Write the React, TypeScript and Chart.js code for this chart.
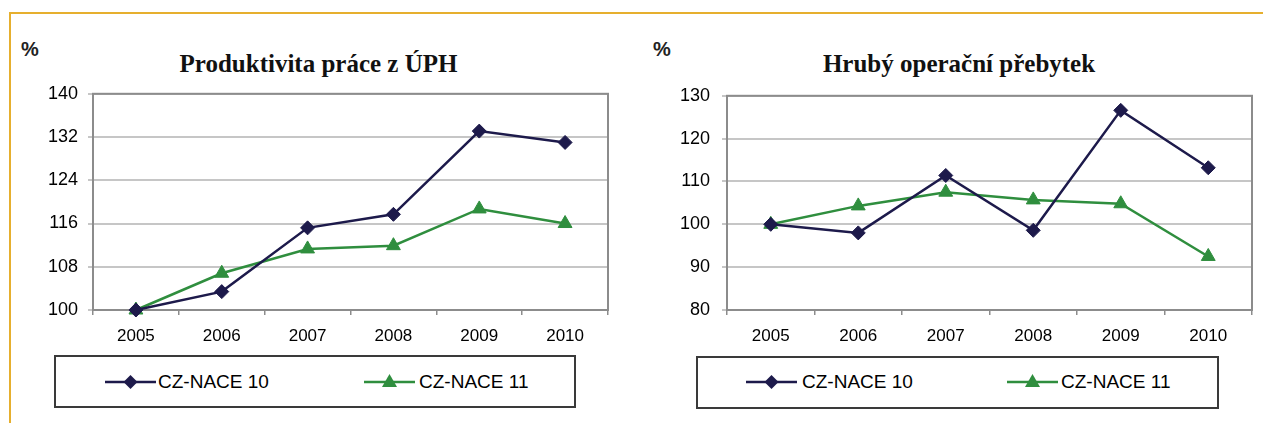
import React, { useEffect, useRef } from "react";
import { Chart, registerables } from "chart.js";

Chart.register(...registerables);

const years = ["2005", "2006", "2007", "2008", "2009", "2010"];
const seriesNames = ["CZ-NACE 10", "CZ-NACE 11"];

const productivityTitle = "Produktivita práce z ÚPH";
const productivityNace10 = [100, 103.4, 115.2, 117.7, 133.1, 131.0];
const productivityNace11 = [100, 106.8, 111.3, 111.9, 118.7, 116.0];
const productivityTicks = { min: 100, max: 140, step: 8 };

const surplusTitle = "Hrubý operační přebytek";
const surplusNace10 = [100, 98.0, 111.4, 98.6, 126.6, 113.2];
const surplusNace11 = [100, 104.3, 107.5, 105.7, 104.8, 92.5];
const surplusTicks = { min: 80, max: 130, step: 10 };

const NAVY = "#1d1a4b";
const GREEN = "#2f8e3e";
const SANS = "'Liberation Sans', Arial, sans-serif";
const SERIF = "'Liberation Serif', 'Times New Roman', serif";

const CANVAS_TOP = 73;
const CANVAS_HEIGHT = 277;

const framePlugin = {
  id: "frame",
  beforeDatasetsDraw(chart: any) {
    const { ctx, chartArea } = chart;
    const { left, top, right, bottom } = chartArea;
    ctx.save();
    ctx.strokeStyle = "#8c8c8c";
    ctx.lineWidth = 2;
    ctx.strokeRect(left, top, right - left, bottom - top);
    ctx.restore();
  },
};

type PanelProps = {
  canvasLeft: number;
  canvasWidth: number;
  yPadding: number;
  values10: number[];
  values11: number[];
  ticks: { min: number; max: number; step: number };
};

function LinePanel({ canvasLeft, canvasWidth, yPadding, values10, values11, ticks }: PanelProps) {
  const ref = useRef<HTMLCanvasElement | null>(null);
  useEffect(() => {
    if (!ref.current) return;
    const chart = new Chart(ref.current, {
      type: "line",
      data: {
        labels: years,
        datasets: [
          {
            label: seriesNames[0],
            data: values10,
            borderColor: NAVY,
            backgroundColor: NAVY,
            borderWidth: 2.5,
            pointStyle: "rectRot",
            pointRadius: 7,
            pointBorderWidth: 1,
            tension: 0,
            clip: false,
          },
          {
            label: seriesNames[1],
            data: values11,
            borderColor: GREEN,
            backgroundColor: GREEN,
            borderWidth: 2.5,
            pointStyle: "triangle",
            pointRadius: 8,
            pointBorderWidth: 1,
            tension: 0,
            clip: false,
          },
        ],
      },
      options: {
        animation: false,
        responsive: false,
        devicePixelRatio: 1,
        layout: { padding: { top: 10, right: 10, left: 0, bottom: 0 } },
        plugins: {
          legend: { display: false },
          title: { display: false },
          tooltip: { enabled: false },
        },
        scales: {
          x: {
            type: "category",
            offset: true,
            grid: {
              display: true,
              offset: true,
              drawOnChartArea: false,
              drawTicks: true,
              tickLength: 5,
              color: "#8c8c8c",
              lineWidth: 1.5,
            },
            border: { display: false },
            ticks: {
              padding: 11,
              color: "#000",
              font: { family: SANS, size: 17 },
              maxRotation: 0,
              autoSkip: false,
            },
            afterFit: (s: any) => {
              s.height = 40;
            },
          },
          y: {
            min: ticks.min,
            max: ticks.max,
            ticks: {
              stepSize: ticks.step,
              padding: yPadding,
              color: "#000",
              font: { family: SANS, size: 18 },
            },
            grid: { color: "#c6c6c6", lineWidth: 2, tickLength: 5 },
            border: { display: false },
            afterFit: (s: any) => {
              s.width = 53;
            },
          },
        },
      },
      plugins: [framePlugin],
    });
    return () => chart.destroy();
  }, []);
  return (
    <canvas
      ref={ref}
      width={canvasWidth}
      height={CANVAS_HEIGHT}
      style={{ position: "absolute", left: canvasLeft, top: CANVAS_TOP, width: canvasWidth, height: CANVAS_HEIGHT }}
    />
  );
}

function Marker({ kind, color }: { kind: "diamond" | "triangle"; color: string }) {
  return (
    <svg width="51" height="20" viewBox="0 0 51 20" style={{ display: "block" }}>
      <line x1="0" y1="10" x2="51" y2="10" stroke={color} strokeWidth="2.5" />
      {kind === "diamond" ? (
        <polygon points="25.5,3 32.5,10 25.5,17 18.5,10" fill={color} />
      ) : (
        <polygon points="25.5,2 33,15 18,15" fill={color} />
      )}
    </svg>
  );
}

type LegendProps = {
  boxLeft: number;
  boxRight: number;
  boxTop: number;
  boxBottom: number;
  icon1: number;
  text1: number;
  icon2: number;
  text2: number;
};

function LegendBox({ boxLeft, boxRight, boxTop, boxBottom, icon1, text1, icon2, text2 }: LegendProps) {
  const textStyle: React.CSSProperties = {
    position: "absolute",
    top: 372,
    font: `19px ${SANS}`,
    lineHeight: "19px",
    color: "#000",
    whiteSpace: "nowrap",
  };
  return (
    <>
      <div
        style={{
          position: "absolute",
          left: boxLeft,
          top: boxTop,
          width: boxRight - boxLeft,
          height: boxBottom - boxTop,
          border: "2px solid #3a3a3a",
          boxSizing: "border-box",
        }}
      />
      <div style={{ position: "absolute", left: icon1, top: 372 }}>
        <Marker kind="diamond" color={NAVY} />
      </div>
      <div style={{ ...textStyle, left: text1 }}>{seriesNames[0]}</div>
      <div style={{ position: "absolute", left: icon2, top: 372 }}>
        <Marker kind="triangle" color={GREEN} />
      </div>
      <div style={{ ...textStyle, left: text2 }}>{seriesNames[1]}</div>
    </>
  );
}

export default function App() {
  const titleStyle: React.CSSProperties = {
    position: "absolute",
    top: 51,
    width: 400,
    textAlign: "center",
    font: `bold 25px ${SERIF}`,
    lineHeight: "25px",
    color: "#111",
    whiteSpace: "nowrap",
  };
  const pctStyle: React.CSSProperties = {
    position: "absolute",
    top: 39,
    font: `bold 20px ${SANS}`,
    lineHeight: "20px",
    color: "#222",
  };
  return (
    <div
      style={{
        position: "fixed",
        left: 0,
        top: 0,
        width: 1263,
        height: 423,
        background: "#fff",
        overflow: "hidden",
      }}
    >
      <div style={{ position: "absolute", left: 9, top: 12, width: 1254, height: 2, background: "#e6af2e" }} />
      <div style={{ position: "absolute", left: 9, top: 12, width: 2, height: 411, background: "#e6af2e" }} />

      <div style={{ ...pctStyle, left: 21 }}>%</div>
      <div style={{ ...titleStyle, left: 318.5 - 200 }}>{productivityTitle}</div>
      <LinePanel
        canvasLeft={40}
        canvasWidth={578}
        yPadding={10}
        values10={productivityNace10}
        values11={productivityNace11}
        ticks={productivityTicks}
      />
      <LegendBox boxLeft={54} boxRight={576} boxTop={355} boxBottom={408} icon1={105} text1={158} icon2={364} text2={419} />

      <div style={{ ...pctStyle, left: 653 }}>%</div>
      <div style={{ ...titleStyle, left: 959 - 200 }}>{surplusTitle}</div>
      <LinePanel
        canvasLeft={674}
        canvasWidth={588}
        yPadding={12}
        values10={surplusNace10}
        values11={surplusNace11}
        ticks={surplusTicks}
      />
      <LegendBox boxLeft={696} boxRight={1219} boxTop={356} boxBottom={409} icon1={746} text1={802} icon2={1007} text2={1061} />
    </div>
  );
}
